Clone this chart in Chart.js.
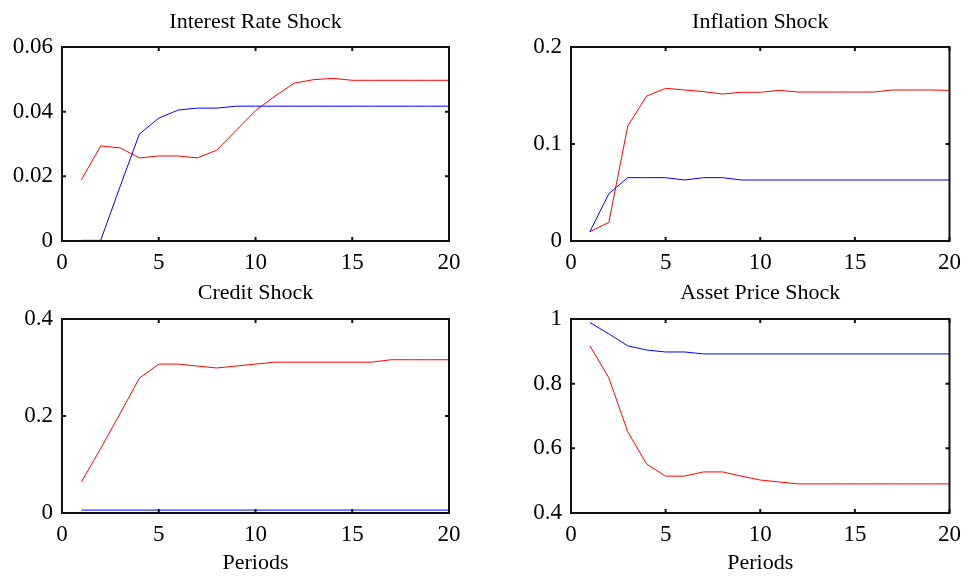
<!DOCTYPE html>
<html>
<head>
<meta charset="utf-8">
<script src="https://cdn.jsdelivr.net/npm/chart.js@4.4.1/dist/chart.umd.min.js"></script>
<style>
  html, body { margin: 0; padding: 0; background: #fff; }
  #wrap { position: relative; width: 969px; height: 576px; }
  canvas { position: absolute; }
</style>
</head>
<body>
<div id="wrap">
  <canvas id="p1" width="484" height="280" style="left:0;top:0"></canvas>
  <canvas id="p2" width="485" height="280" style="left:484px;top:0"></canvas>
  <canvas id="p3" width="484" height="296" style="left:0;top:280px"></canvas>
  <canvas id="p4" width="485" height="296" style="left:484px;top:280px"></canvas>
</div>
<script>
// Horizon (periods after the shock)
const periods = [1, 2, 3, 4, 5, 6, 7, 8, 9, 10, 11, 12, 13, 14, 15, 16, 17, 18, 19, 20];

// Interest rate shock responses
const interestBlue = [0.0002, 0.0002, 0.0168, 0.0331, 0.0380, 0.0405, 0.0411, 0.0411, 0.0417, 0.0417,
                      0.0417, 0.0417, 0.0417, 0.0417, 0.0417, 0.0417, 0.0417, 0.0417, 0.0417, 0.0417];
const interestRed  = [0.0189, 0.0294, 0.0288, 0.0257, 0.0263, 0.0263, 0.0257, 0.0281, 0.0342, 0.0403,
                      0.0448, 0.0488, 0.0499, 0.0503, 0.0497, 0.0497, 0.0497, 0.0497, 0.0497, 0.0497];

// Inflation shock responses
const inflationBlue = [0.0096, 0.0488, 0.0653, 0.0653, 0.0653, 0.0629, 0.0653, 0.0653, 0.0629, 0.0629,
                       0.0629, 0.0629, 0.0629, 0.0629, 0.0629, 0.0629, 0.0629, 0.0629, 0.0629, 0.0629];
const inflationRed  = [0.0096, 0.0192, 0.1186, 0.1495, 0.1574, 0.1557, 0.1540, 0.1515, 0.1533, 0.1533,
                       0.1553, 0.1536, 0.1536, 0.1536, 0.1536, 0.1536, 0.1557, 0.1557, 0.1557, 0.1553];

// Credit shock responses
const creditBlue = [0.006, 0.006, 0.006, 0.006, 0.006, 0.006, 0.006, 0.006, 0.006, 0.006,
                    0.006, 0.006, 0.006, 0.006, 0.006, 0.006, 0.006, 0.006, 0.006, 0.006];
const creditRed  = [0.064, 0.133, 0.205, 0.278, 0.307, 0.307, 0.303, 0.299, 0.303, 0.307,
                    0.311, 0.311, 0.311, 0.311, 0.311, 0.311, 0.316, 0.316, 0.316, 0.316];

// Asset price shock responses
const assetBlue = [0.989, 0.954, 0.917, 0.904, 0.898, 0.898, 0.892, 0.892, 0.892, 0.892,
                   0.892, 0.892, 0.892, 0.892, 0.892, 0.892, 0.892, 0.892, 0.892, 0.892];
const assetRed  = [0.917, 0.818, 0.651, 0.551, 0.514, 0.514, 0.527, 0.527, 0.514, 0.502,
                   0.496, 0.490, 0.490, 0.490, 0.490, 0.490, 0.490, 0.490, 0.490, 0.490];

const FONT = 'Liberation Serif, Times New Roman, serif';
const TITLE_SIZE = 22;

// Box around the plot with inward tick marks on all four sides,
// and the title centred over the plot box instead of the whole canvas
const boxPlugin = {
  id: 'boxPlugin',
  afterLayout(chart) {
    const t = chart.titleBlock;
    if (t) {
      t.left = chart.chartArea.left;
      t.right = chart.chartArea.right;
    }
  },
  afterDraw(chart) {
    const { ctx, chartArea: a, scales: { x, y } } = chart;
    ctx.save();
    ctx.strokeStyle = '#111';
    ctx.lineWidth = 2;
    ctx.strokeRect(a.left, a.top, a.right - a.left, a.bottom - a.top);
    ctx.beginPath();
    x.ticks.forEach(t => {
      const px = x.getPixelForValue(t.value);
      ctx.moveTo(px, a.bottom); ctx.lineTo(px, a.bottom - 4);
      ctx.moveTo(px, a.top); ctx.lineTo(px, a.top + 4);
    });
    y.ticks.forEach(t => {
      const py = y.getPixelForValue(t.value);
      ctx.moveTo(a.left, py); ctx.lineTo(a.left + 4, py);
      ctx.moveTo(a.right, py); ctx.lineTo(a.right - 4, py);
    });
    ctx.stroke();
    ctx.restore();
  }
};

function toPoints(values) {
  return values.map((v, i) => ({ x: periods[i], y: v }));
}

function makePanel(id, title, blue, red, yMin, yMax, yStep, box, showPeriods) {
  const canvas = document.getElementById(id);
  const W = canvas.width, H = canvas.height;
  return new Chart(canvas, {
    type: 'line',
    data: {
      datasets: [
        { data: toPoints(blue), borderColor: '#0000ff', borderWidth: 1, pointRadius: 0, tension: 0 },
        { data: toPoints(red), borderColor: '#ff0000', borderWidth: 1, pointRadius: 0, tension: 0 }
      ]
    },
    options: {
      responsive: false,
      animation: false,
      events: [],
      layout: { padding: { left: 0, right: W - box.right, top: 0, bottom: 0 } },
      plugins: {
        legend: { display: false },
        tooltip: { enabled: false },
        title: {
          display: true,
          text: title,
          color: '#000',
          font: { family: FONT, size: TITLE_SIZE, weight: 'normal', lineHeight: 1.2 },
          padding: { top: box.titleTop, bottom: box.top - box.titleTop - TITLE_SIZE * 1.2 }
        }
      },
      scales: {
        x: {
          type: 'linear',
          min: 0, max: 20,
          grid: { display: false, drawTicks: false },
          border: { display: false },
          ticks: {
            stepSize: 5,
            color: '#000',
            padding: 8,
            maxRotation: 0,
            font: { family: FONT, size: 23 }
          },
          title: {
            display: showPeriods,
            text: 'Periods',
            color: '#000',
            font: { family: FONT, size: 22 },
            padding: { top: 0, bottom: 0 }
          },
          afterFit(scale) { scale.height = H - box.bottom; }
        },
        y: {
          min: yMin, max: yMax,
          grid: { display: false, drawTicks: false },
          border: { display: false },
          ticks: {
            stepSize: yStep,
            color: '#000',
            padding: 9,
            font: { family: FONT, size: 23 },
            callback: v => String(+v.toFixed(4))
          },
          afterFit(scale) { scale.width = box.left; }
        }
      }
    },
    plugins: [boxPlugin]
  });
}

makePanel('p1', 'Interest Rate Shock', interestBlue, interestRed, 0, 0.06, 0.02,
  { left: 62, right: 449, top: 47, bottom: 241, titleTop: 9 }, false);
makePanel('p2', 'Inflation Shock', inflationBlue, inflationRed, 0, 0.2, 0.1,
  { left: 87, right: 470, top: 47, bottom: 241, titleTop: 9 }, false);
makePanel('p3', 'Credit Shock', creditBlue, creditRed, 0, 0.4, 0.2,
  { left: 62, right: 449, top: 39, bottom: 233, titleTop: 0 }, true);
makePanel('p4', 'Asset Price Shock', assetBlue, assetRed, 0.4, 1, 0.2,
  { left: 87, right: 470, top: 39, bottom: 233, titleTop: 0 }, true);
</script>
</body>
</html>
